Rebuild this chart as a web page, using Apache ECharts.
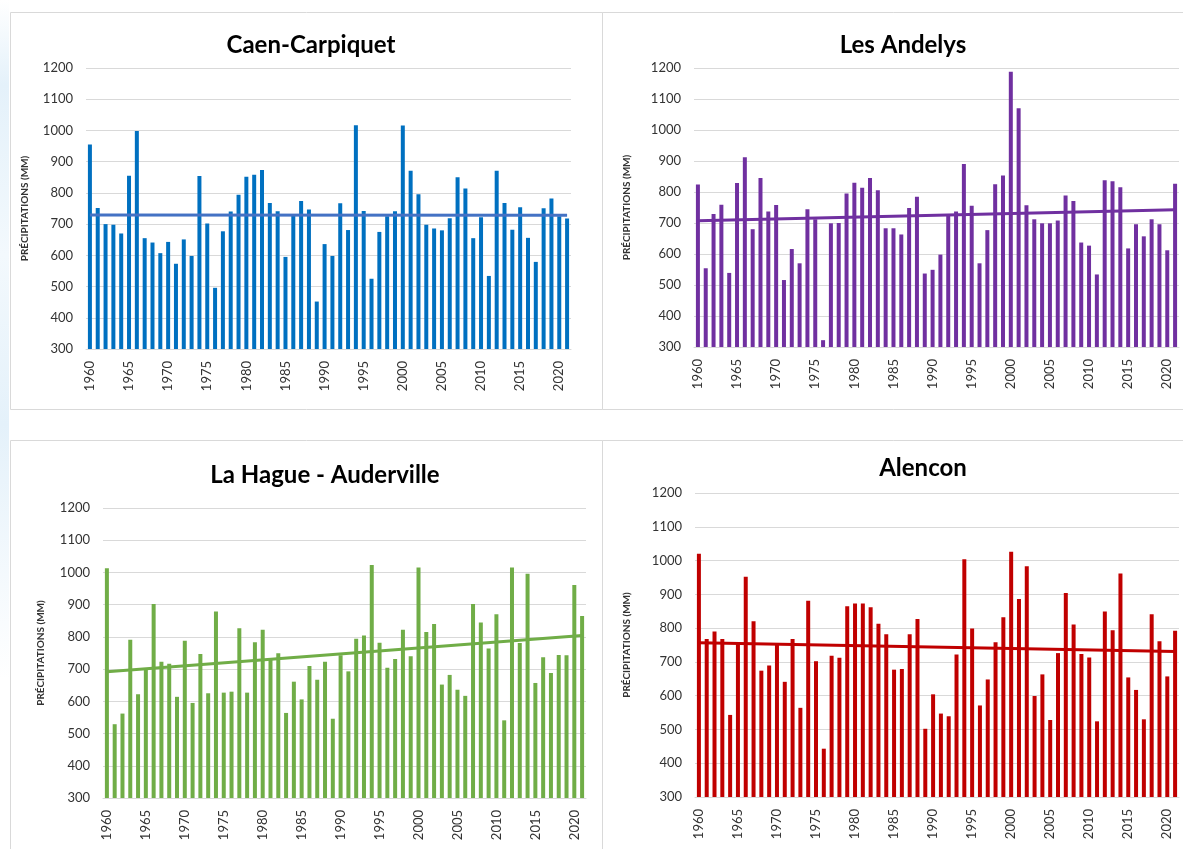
<!DOCTYPE html>
<html lang="fr">
<head>
<meta charset="UTF-8">
<title>Précipitations annuelles</title>
<style>
  html, body { margin: 0; padding: 0; background: #fff; }
  #chart { width: 1183px; height: 849px; }
  #edge { position: absolute; left: 0; top: 0; width: 9px; height: 849px;
          background: linear-gradient(180deg, #fff 0%, #e4f1fa 10%, #f3f9fd 30%, #e4f1fa 50%, #fff 80%); }
</style>
</head>
<body>
<div id="edge"></div>
<div id="chart"></div>
<script src="https://cdn.jsdelivr.net/npm/echarts@6/dist/echarts.min.js"></script>
<script>
// années 1960 -> 2021
var years = [];
for (var y = 1960; y <= 2021; y++) years.push(String(y));

var yTicks = [300, 400, 500, 600, 700, 800, 900, 1000, 1100, 1200];

var caen = [955,752,700,698,670,855,998,655,641,607,
            643,573,651,598,854,702,496,677,740,794,
            852,858,873,768,741,595,729,774,747,452,
            636,598,767,681,1017,742,525,675,725,741,
            1016,871,796,698,686,680,719,850,814,655,
            722,534,871,768,682,754,656,579,751,782,
            725,718];
var andelys = [824,554,729,759,539,829,912,680,845,737,
               758,516,616,570,744,712,322,699,700,795,
               830,814,845,806,683,683,663,748,785,537,
               549,598,726,737,890,756,570,677,825,853,
               1188,1070,757,712,699,699,708,789,771,637,
               627,534,838,835,815,618,696,657,712,696,
               612,827];
var hague = [1013,529,562,791,622,699,902,723,717,614,
             788,595,747,625,879,627,630,827,627,783,
             822,730,749,564,661,606,710,667,723,546,
             743,693,794,804,1023,782,704,731,822,740,
             1015,815,840,652,682,636,617,902,845,764,
             870,541,1015,781,996,657,737,688,744,743,
             961,865];
var alencon = [1020,768,790,768,543,753,952,820,674,689,
               753,641,768,564,881,702,443,718,712,865,
               873,873,862,813,782,677,679,782,827,502,
               604,547,539,722,1004,799,571,648,758,832,
               1026,886,983,599,663,528,726,904,811,723,
               713,524,849,794,962,654,617,530,841,761,
               657,792];

// tendance linéaire (début 1960, fin 2021)
var caenTrend = [729, 728];
var andelysTrend = [707, 743];
var hagueTrend = [692, 804];
var alenconTrend = [757, 731];

var stations = ['Caen-Carpiquet', 'Les Andelys', 'La Hague - Auderville', 'Alencon'];

var panels = [
  {name: stations[0], values: caen, trend: caenTrend, color: '#0070C0', trendColor: '#4472C4',
   grid: {left: 86, top: 68, width: 485, height: 281}, tx: 306, ty: 28, nameGap: 56},
  {name: stations[1], values: andelys, trend: andelysTrend, color: '#7030A0', trendColor: '#7030A0',
   grid: {left: 694, top: 68, width: 485, height: 279}, tx: 898, ty: 28, nameGap: 62},
  {name: stations[2], values: hague, trend: hagueTrend, color: '#70AD47', trendColor: '#70AD47',
   grid: {left: 103, top: 508, width: 483, height: 290}, tx: 320, ty: 458, nameGap: 57},
  {name: stations[3], values: alencon, trend: alenconTrend, color: '#C00000', trendColor: '#C00000',
   grid: {left: 695, top: 493, width: 484, height: 304}, tx: 918, ty: 451, nameGap: 63}
];

var font = 'Lato, "Open Sans", sans-serif';
var option = {
  animation: false,
  backgroundColor: 'transparent',
  title: [], grid: [], xAxis: [], yAxis: [], series: [],
  graphic: [
    {type: 'rect', shape: {x: 10.5, y: 12.5, width: 592, height: 397}, style: {fill: 'none', stroke: '#d9d9d9', lineWidth: 1}},
    {type: 'rect', shape: {x: 602.5, y: 12.5, width: 600, height: 397}, style: {fill: 'none', stroke: '#d9d9d9', lineWidth: 1}},
    {type: 'rect', shape: {x: 10.5, y: 440.5, width: 592, height: 420}, style: {fill: 'none', stroke: '#d9d9d9', lineWidth: 1}},
    {type: 'rect', shape: {x: 602.5, y: 440.5, width: 600, height: 420}, style: {fill: 'none', stroke: '#d9d9d9', lineWidth: 1}}
  ]
};

panels.forEach(function (p, i) {
  option.title.push({
    text: p.name, left: p.tx, top: p.ty, textAlign: 'center',
    textStyle: {fontFamily: font, fontWeight: 'bold', fontSize: 24, color: '#000'}
  });
  option.grid.push(p.grid);
  option.xAxis.push({
    type: 'category', gridIndex: i, data: years,
    axisLine: {lineStyle: {color: '#d9d9d9'}},
    axisTick: {show: false},
    axisLabel: {interval: 4, rotate: 90, margin: 12, fontFamily: font, fontSize: 13, color: '#333'}
  });
  option.yAxis.push({
    type: 'value', gridIndex: i, min: yTicks[0], max: yTicks[yTicks.length - 1], interval: 100,
    name: 'PRÉCIPITATIONS (MM)', nameLocation: 'middle', nameGap: p.nameGap, nameRotate: 90,
    nameTextStyle: {fontFamily: font, fontWeight: 'bold', fontSize: 10, color: '#333'},
    axisLine: {show: false}, axisTick: {show: false},
    axisLabel: {margin: 13, fontFamily: font, fontSize: 13, color: '#333',
                formatter: function (v) { return String(v); }},
    splitLine: {lineStyle: {color: '#d9d9d9', width: 1}}
  });
  option.series.push({
    type: 'bar', xAxisIndex: i, yAxisIndex: i, data: p.values,
    barWidth: 4, itemStyle: {color: p.color}
  });
  option.series.push({
    type: 'line', xAxisIndex: i, yAxisIndex: i,
    data: [[years[0], p.trend[0]], [years[years.length - 1], p.trend[1]]],
    symbol: 'none', z: 5,
    lineStyle: {color: p.trendColor, width: 3}
  });
});

var chart = echarts.init(document.getElementById('chart'), null, {renderer: 'canvas'});
chart.setOption(option);
</script>
</body>
</html>
